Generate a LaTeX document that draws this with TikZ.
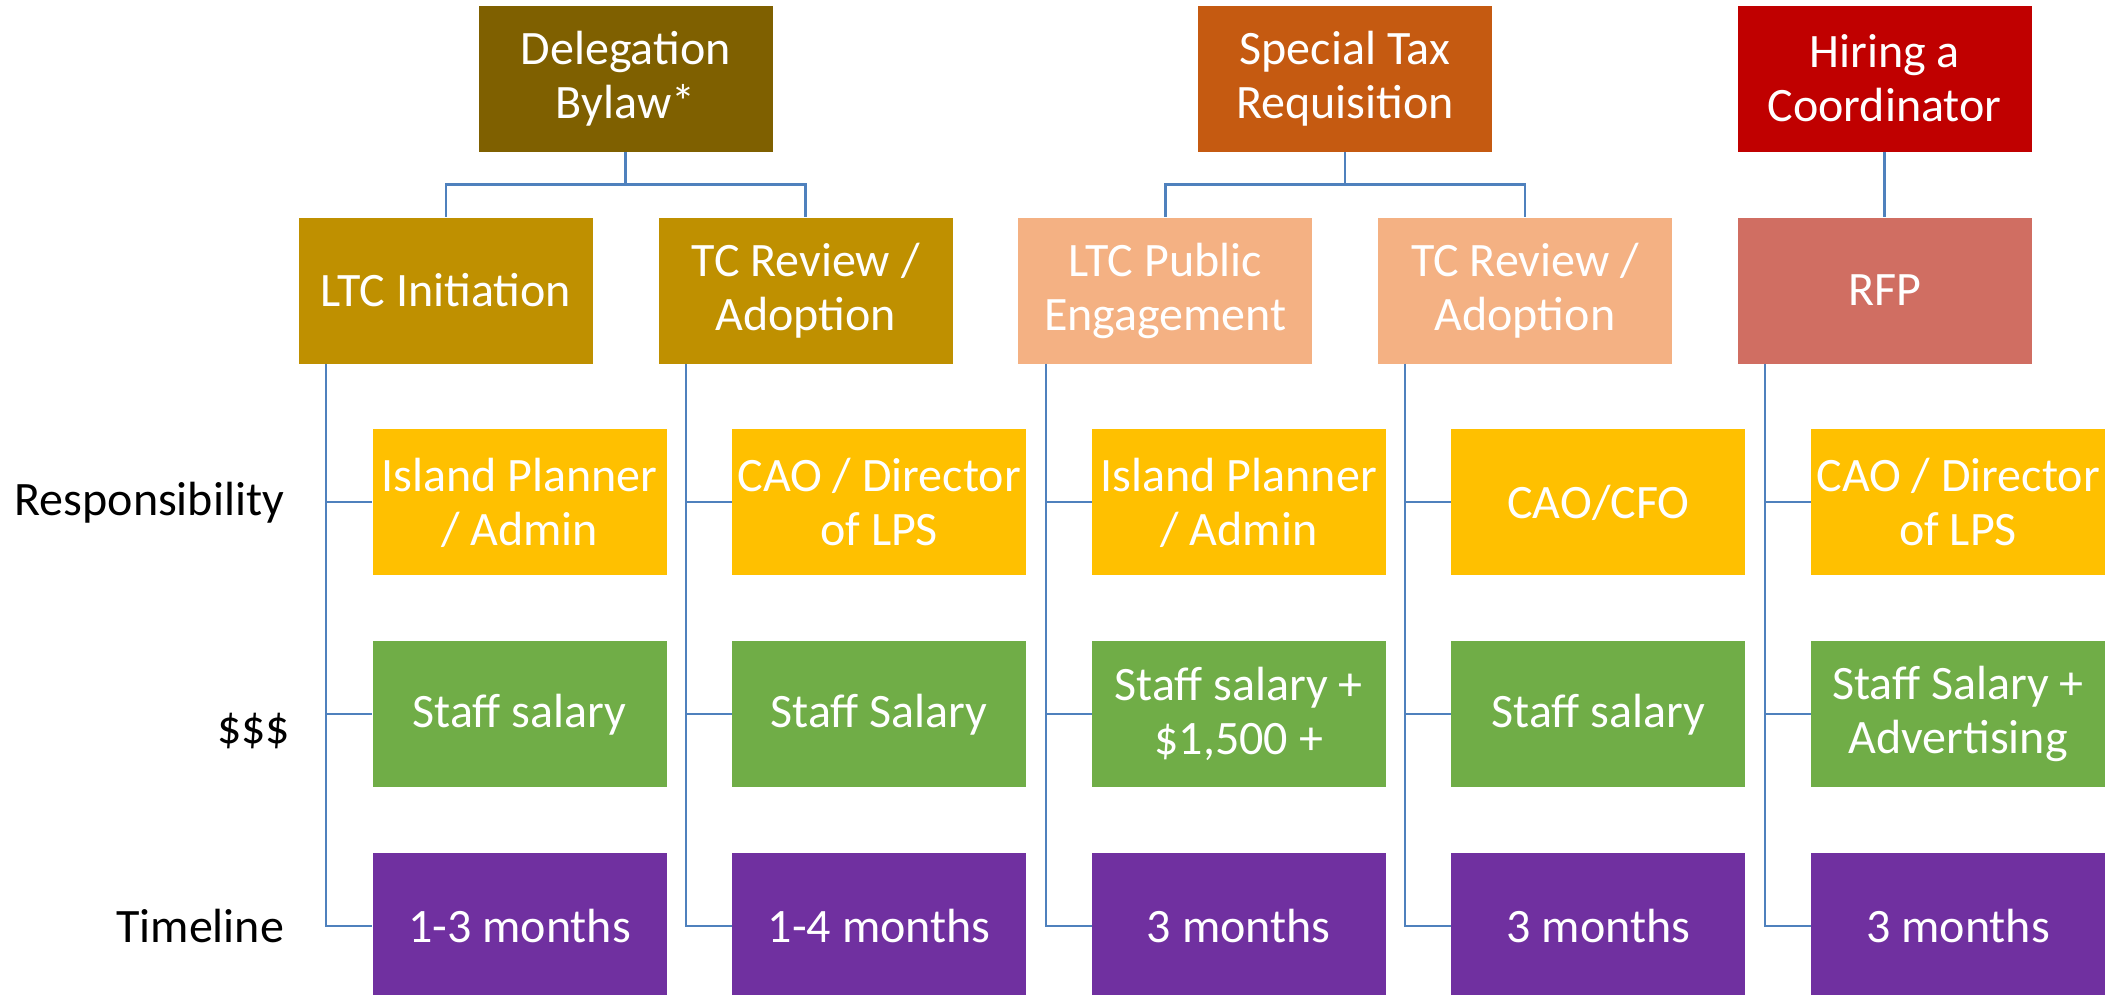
\documentclass[tikz,border=0pt]{standalone}
\usepackage{fontspec}
\setmainfont{Carlito}
\usetikzlibrary{positioning}
\definecolor{bylawbrown}{RGB}{127,96,0}
\definecolor{bylawgold}{RGB}{191,144,0}
\definecolor{taxorange}{RGB}{197,90,17}
\definecolor{taxpeach}{RGB}{244,177,131}
\definecolor{hirered}{RGB}{192,0,0}
\definecolor{hirerose}{RGB}{208,110,98}
\definecolor{respyellow}{RGB}{255,192,0}
\definecolor{costgreen}{RGB}{112,173,71}
\definecolor{timepurple}{RGB}{112,48,160}
\definecolor{linkblue}{RGB}{79,129,189}
\tikzset{
  box/.style={rectangle,minimum width=294pt,minimum height=146pt,inner sep=0pt,
    align=center,text=white,font=\fontsize{48}{54}\selectfont},
  resp/.style={box,fill=respyellow},
  cost/.style={box,fill=costgreen},
  time/.style={box,fill=timepurple},
  rowlabel/.style={inner sep=0pt,font=\fontsize{48}{54}\selectfont},
  link/.style={draw=linkblue,line width=2.5pt},
  branch/.style={draw=linkblue,line width=2pt}
}

\begin{document}
\begin{tikzpicture}[x=1pt,y=1pt,node distance=65.5pt and 65.25pt]
\useasboundingbox (0,0) rectangle (2110,-994);

% phases
\node[box,fill=bylawgold] (ltc1) at (446,-290.5) {LTC Initiation};
\node[box,fill=bylawgold,right=of ltc1] (tcr1) {TC Review /\\Adoption};
\node[box,fill=taxpeach,right=of tcr1] (ltc2) {LTC Public\\Engagement};
\node[box,fill=taxpeach,right=of ltc2] (tcr2) {TC Review /\\Adoption};
\node[box,fill=hirerose,right=of tcr2] (rfp) {RFP};

% initiatives
\node[box,fill=bylawbrown,above=of ltc1,xshift=179.6pt] (bylaw) {Delegation\\Bylaw*};
\node[box,fill=taxorange,above=of ltc2,xshift=179.6pt] (tax) {Special Tax\\Requisition};
\node[box,fill=hirered,above=of rfp] (hire) {Hiring a\\Coordinator};

\draw[link] (bylaw.south) -- ++(0,-32.5) -| (ltc1.north);
\draw[link] (bylaw.south) -- ++(0,-32.5) -| (tcr1.north);
\draw[link] (tax.south) -- ++(0,-32.5) -| (ltc2.north);
\draw[link] (tax.south) -- ++(0,-32.5) -| (tcr2.north);
\draw[link] (hire) -- (rfp);

% details per phase
\node[resp,below=of ltc1,xshift=73.5pt] (resp1) {Island Planner\\/ Admin};
\node[cost,below=of resp1] (cost1) {Staff salary};
\node[time,below=of cost1] (time1) {1-3 months};

\node[resp,below=of tcr1,xshift=73.5pt] (resp2) {CAO / Director\\of LPS};
\node[cost,below=of resp2] (cost2) {Staff Salary};
\node[time,below=of cost2] (time2) {1-4 months};

\node[resp,below=of ltc2,xshift=73.5pt] (resp3) {Island Planner\\/ Admin};
\node[cost,below=of resp3] (cost3) {Staff salary +\\\$1,500 +};
\node[time,below=of cost3] (time3) {3 months};

\node[resp,below=of tcr2,xshift=73.5pt] (resp4) {CAO/CFO};
\node[cost,below=of resp4] (cost4) {Staff salary};
\node[time,below=of cost4] (time4) {3 months};

\node[resp,below=of rfp,xshift=73.5pt] (resp5) {CAO / Director\\of LPS};
\node[cost,below=of resp5] (cost5) {Staff Salary +\\Advertising};
\node[time,below=of cost5] (time5) {3 months};

\draw[branch] ([xshift=27.5pt]ltc1.south west) |- (resp1.west)
  ([xshift=27.5pt]ltc1.south west) |- (cost1.west)
  ([xshift=27.5pt]ltc1.south west) |- (time1.west);
\draw[branch] ([xshift=27.5pt]tcr1.south west) |- (resp2.west)
  ([xshift=27.5pt]tcr1.south west) |- (cost2.west)
  ([xshift=27.5pt]tcr1.south west) |- (time2.west);
\draw[branch] ([xshift=27.5pt]ltc2.south west) |- (resp3.west)
  ([xshift=27.5pt]ltc2.south west) |- (cost3.west)
  ([xshift=27.5pt]ltc2.south west) |- (time3.west);
\draw[branch] ([xshift=27.5pt]tcr2.south west) |- (resp4.west)
  ([xshift=27.5pt]tcr2.south west) |- (cost4.west)
  ([xshift=27.5pt]tcr2.south west) |- (time4.west);
\draw[branch] ([xshift=27.5pt]rfp.south west) |- (resp5.west)
  ([xshift=27.5pt]rfp.south west) |- (cost5.west)
  ([xshift=27.5pt]rfp.south west) |- (time5.west);

% row labels
\node[rowlabel,left=88pt of resp1] (lresp) {Responsibility};
\node[rowlabel,left=82pt of cost1,yshift=-17pt] (lcost) {\$\$\$};
\node[rowlabel,left=88pt of time1] (ltime) {Timeline};

\end{tikzpicture}
\end{document}
